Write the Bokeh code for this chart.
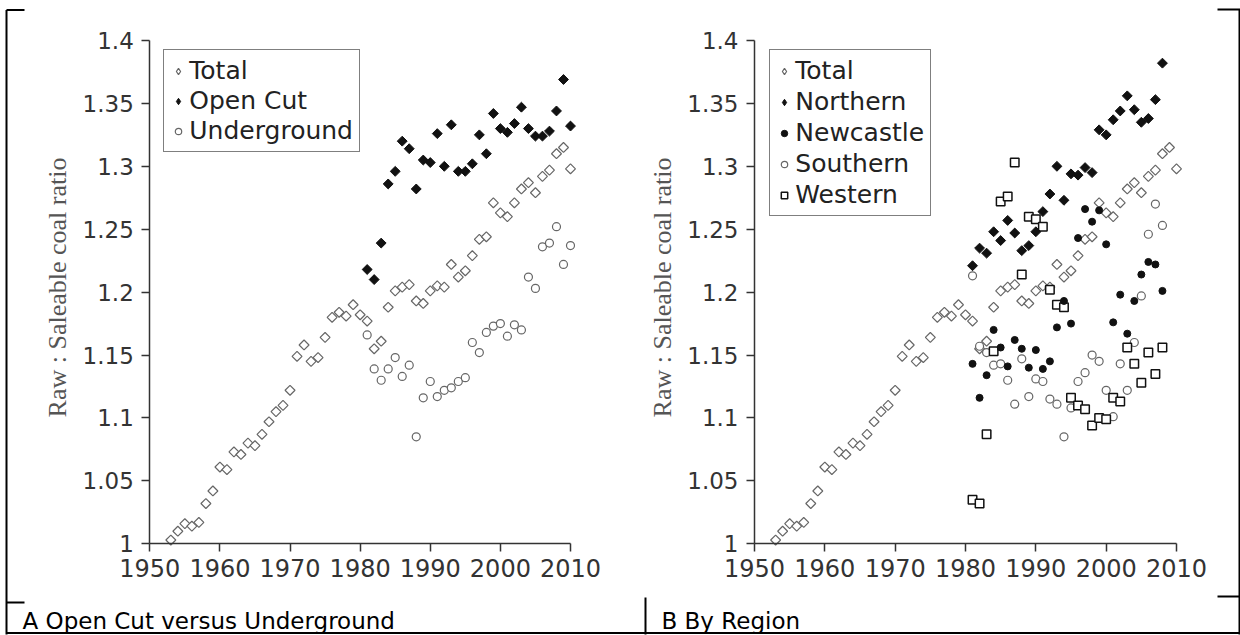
import math
from bokeh.plotting import figure
from bokeh.models import Range1d, LinearAxis, FixedTicker, Legend, LegendItem
from bokeh.embed import file_html
from bokeh.resources import INLINE
from bokeh.core.properties import value

# ---------------- data ----------------
years_total = list(range(1953, 2011))
total = [1.003, 1.010, 1.016, 1.014, 1.017, 1.032, 1.042, 1.061, 1.059, 1.073,
         1.071, 1.080, 1.078, 1.087, 1.097, 1.105, 1.110, 1.122, 1.149, 1.158,
         1.145, 1.148, 1.164, 1.180, 1.184, 1.181, 1.190, 1.182, 1.177, 1.155,
         1.161, 1.188, 1.201, 1.204, 1.206, 1.193, 1.191, 1.201, 1.205, 1.204,
         1.222, 1.212, 1.217, 1.229, 1.242, 1.244, 1.271, 1.263, 1.260, 1.271,
         1.282, 1.287, 1.279, 1.292, 1.297, 1.310, 1.315, 1.298]

years_mine = list(range(1981, 2011))
open_cut = [1.218, 1.210, 1.239, 1.286, 1.296, 1.320, 1.314, 1.282, 1.305, 1.303,
            1.326, 1.300, 1.333, 1.296, 1.296, 1.302, 1.325, 1.310, 1.342, 1.330,
            1.327, 1.334, 1.347, 1.330, 1.324, 1.324, 1.328, 1.344, 1.369, 1.332]
underground = [1.166, 1.139, 1.130, 1.139, 1.148, 1.133, 1.142, 1.085, 1.116, 1.129,
               1.117, 1.122, 1.124, 1.129, 1.132, 1.160, 1.152, 1.168, 1.173, 1.175,
               1.165, 1.174, 1.170, 1.212, 1.203, 1.236, 1.239, 1.252, 1.222, 1.237]

years_region = list(range(1981, 2009))
northern = [1.221, 1.235, 1.231, 1.248, 1.241, 1.257, 1.247, 1.233, 1.237, 1.248,
            1.264, 1.278, 1.300, 1.273, 1.294, 1.293, 1.299, 1.295, 1.329, 1.325,
            1.337, 1.344, 1.356, 1.345, 1.335, 1.338, 1.353, 1.382]
newcastle = [1.143, 1.116, 1.134, 1.170, 1.156, 1.141, 1.162, 1.155, 1.140, 1.154,
             1.139, 1.145, 1.172, 1.193, 1.175, 1.243, 1.266, 1.256, 1.265, 1.238,
             1.176, 1.198, 1.167, 1.193, 1.214, 1.224, 1.222, 1.201]
southern = [1.213, 1.157, 1.152, 1.142, 1.143, 1.130, 1.111, 1.147, 1.117, 1.131,
            1.129, 1.115, 1.111, 1.085, 1.108, 1.129, 1.136, 1.150, 1.145, 1.122,
            1.101, 1.143, 1.122, 1.160, 1.197, 1.246, 1.270, 1.253]
western = [1.035, 1.032, 1.087, 1.153, 1.272, 1.276, 1.303, 1.214, 1.260, 1.258,
           1.252, 1.202, 1.190, 1.188, 1.116, 1.110, 1.107, 1.094, 1.100, 1.099,
           1.116, 1.113, 1.156, 1.143, 1.128, 1.152, 1.135, 1.156]

x_ticks = [1950, 1960, 1970, 1980, 1990, 2000, 2010]
y_ticks = [1.0, 1.05, 1.1, 1.15, 1.2, 1.25, 1.3, 1.35, 1.4]
y_tick_labels = ["1", "1.05", "1.1", "1.15", "1.2", "1.25", "1.3", "1.35", "1.4"]
y_title = "Raw : Saleable coal ratio"
caption_a = "A Open Cut versus Underground"
caption_b = "B By Region"
legend_a = ["Total", "Open Cut", "Underground"]
legend_b = ["Total", "Northern", "Newcastle", "Southern", "Western"]

# ---------------- layout constants (pixels) ----------------
W, H = 1240, 635
LX0, LX1 = 149.3, 570.0      # left panel: px of 1950 and 2010
RX0, RX1 = 754.0, 1176.0     # right panel
YP0, YP1 = 543.3, 40.0       # px (from top) of 1.0 and 1.4

def xr(px0, px1):
    k = (px1 - px0) / 60.0
    return Range1d(start=1950 - px0 / k, end=1950 + (W - px0) / k)

ky = (YP0 - YP1) / 0.4
p = figure(width=W, height=H, output_backend="svg", toolbar_location=None,
           x_range=xr(LX0, LX1),
           y_range=Range1d(start=1.0 - (H - YP0) / ky, end=1.0 + YP0 / ky),
           x_axis_location=None, y_axis_location=None, min_border=0,
           outline_line_color=None, background_fill_color="white",
           border_fill_color="white",
           styles={"position": "absolute", "left": "0px", "top": "0px"})
p.extra_x_ranges = {"xR": xr(RX0, RX1), "px": Range1d(0, W)}
p.extra_y_ranges = {"py": Range1d(H, 0)}
p.xgrid.visible = False
p.ygrid.visible = False

AX = dict(axis_line_color="#333333", axis_line_width=1.5,
          major_tick_line_color="#333333", major_tick_line_width=1.5,
          major_tick_out=8, major_tick_in=0, minor_tick_out=0, minor_tick_in=0,
          major_label_text_font="DejaVu Sans", major_label_text_color="#333333")

for name in ["default", "xR"]:
    ax = LinearAxis(x_range_name=name, fixed_location=1.0, bounds=(1950, 2010),
                    ticker=FixedTicker(ticks=x_ticks), major_label_standoff=7,
                    major_label_text_font_size="24px", **AX)
    ay = LinearAxis(x_range_name=name, fixed_location=1950, bounds=(1.0, 1.4),
                    ticker=FixedTicker(ticks=y_ticks), major_label_standoff=8,
                    major_label_text_font_size="23px",
                    major_label_overrides=dict(zip(y_ticks, y_tick_labels)), **AX)
    p.add_layout(ax, "below")
    p.add_layout(ay, "left")

GRAY = "#666666"
BLACK = "#111111"
DIAMOND = dict(marker="square", angle=math.pi / 4, size=7)
OPEN_GRAY = dict(fill_color="white", line_color=GRAY, line_width=1.2)
SOLID = dict(fill_color=BLACK, line_color=BLACK, line_width=1)

def sc(xs, ys, xname, **kw):
    return p.scatter(xs, ys, x_range_name=xname, **kw)

# left panel
rLT = sc(years_total, total, "default", **OPEN_GRAY, **DIAMOND)
rLU = sc(years_mine, underground, "default", marker="circle", size=8, **OPEN_GRAY)
rLO = sc(years_mine, open_cut, "default", **SOLID, **DIAMOND)
# right panel
rRT = sc(years_total, total, "xR", **OPEN_GRAY, **DIAMOND)
rRS = sc(years_region, southern, "xR", marker="circle", size=8, **OPEN_GRAY)
rRW = sc(years_region, western, "xR", marker="square", size=8.5, fill_color="white",
         line_color=BLACK, line_width=1.5)
rRN = sc(years_region, northern, "xR", **SOLID, **DIAMOND)
rRC = sc(years_region, newcastle, "xR", marker="circle", size=7, **SOLID)

# hidden legend swatches with a diamond shape (the legend does not rotate markers)
kT = sc(years_total, total, "default", marker="diamond", visible=False, **OPEN_GRAY)
kO = sc(years_mine, open_cut, "default", marker="diamond", visible=False, **SOLID)
kN = sc(years_region, northern, "xR", marker="diamond", visible=False, **SOLID)

LEG = dict(border_line_color="black", border_line_width=1.5, background_fill_color="white",
           background_fill_alpha=1.0, label_text_font="DejaVu Sans", label_text_font_size="25px",
           label_text_color="#222222", glyph_width=16, glyph_height=20, label_height=20,
           label_standoff=3, padding=6, margin=0, inactive_fill_alpha=0.0)
legL = Legend(items=[LegendItem(label=l, renderers=[r]) for l, r in zip(legend_a, [kT, kO, rLU])],
              location=(163.3, H - 51 - 101), spacing=1, **LEG)
legR = Legend(items=[LegendItem(label=l, renderers=[r]) for l, r in zip(legend_b, [kT, kN, rRC, rRS, rRW])],
              location=(769.3, H - 51 - 165), spacing=2, **LEG)
p.add_layout(legL, "center")
p.add_layout(legR, "center")

# y axis titles
p.text(x=[LX0 - 92, RX0 - 92], y=[287, 287], text=[y_title, y_title], angle=math.pi / 2,
       x_range_name="px", y_range_name="py", text_align="center", text_baseline="middle",
       text_font=value("Liberation Serif"), text_font_size="26px", text_color="#555555")

# table borders
bx0 = [6, 6, 1217, 1239, 6, 6, 1217, 645]
by0 = [9.5, 9.5, 9, 9, 632.5, 602, 596, 597]
bx1 = [6, 24, 1240, 1239, 1240, 24, 1240, 645]
by1 = [634, 9.5, 9, 634, 632.5, 602, 596, 634]
p.segment(bx0, by0, bx1, by1, x_range_name="px", y_range_name="py",
          line_color="black", line_width=2)

# captions
p.text(x=[22, 661], y=[620, 620], text=[caption_a, caption_b], x_range_name="px", y_range_name="py",
       text_align="left", text_baseline="alphabetic", text_font=value("DejaVu Sans"),
       text_font_size="23px", text_color="black")

open("out.html", "w").write(file_html(p, INLINE))
